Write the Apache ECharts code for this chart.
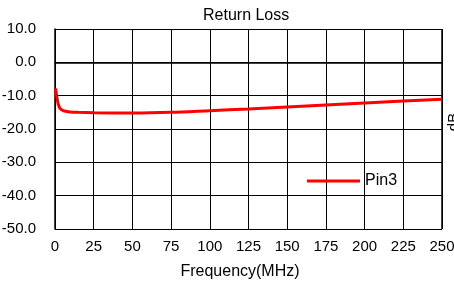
<!DOCTYPE html>
<html>
<head>
<meta charset="utf-8">
<script src="https://cdn.jsdelivr.net/npm/echarts@6/dist/echarts.min.js"></script>
<style>
  html, body { margin: 0; padding: 0; background: #fff; }
  #chart { width: 454px; height: 282px; }
</style>
</head>
<body>
<div id="chart"></div>
<script>
// frequency points (MHz) and return loss (dB)
const freqs = [0.5, 1, 2, 3, 4, 5, 7, 10, 15, 25, 50, 75, 100, 125, 150, 175, 200, 225, 250];
const pin3 = [-7.8, -9.8, -12.4, -13.6, -14.1, -14.4, -14.7, -14.9, -15.0, -15.1, -15.2, -15.0, -14.5, -14.0, -13.4, -12.8, -12.2, -11.6, -11.1];
const xTicks = [0, 25, 50, 75, 100, 125, 150, 175, 200, 225, 250];
const yTicks = [-50, -40, -30, -20, -10, 0, 10];

const font = 'Liberation Sans, Arial, sans-serif';
const chart = echarts.init(document.getElementById('chart'));

chart.setOption({
  animation: false,
  title: {
    text: 'Return Loss',
    left: 203,
    top: 8,
    padding: 0,
    textStyle: { fontFamily: font, fontSize: 16, fontWeight: 'normal', color: '#000' }
  },
  legend: {
    left: 307,
    top: 173,
    padding: 0,
    itemWidth: 53,
    itemHeight: 3,
    itemGap: 4,
    textStyle: { fontFamily: font, fontSize: 16, color: '#000', padding: [0, 0, 0, 0] },
    data: [{ name: 'Pin3', icon: 'rect' }]
  },
  grid: { left: 55, right: 12, top: 29, bottom: 53, outerBoundsMode: 'none' },
  xAxis: {
    type: 'value',
    min: xTicks[0],
    max: xTicks[xTicks.length - 1],
    interval: 25,
    axisLine: { lineStyle: { color: '#000', width: 1.5 } },
    axisTick: { show: false },
    axisLabel: { fontFamily: font, fontSize: 15, color: '#000', margin: 10 },
    splitLine: { show: true, lineStyle: { color: '#000', width: 1 } }
  },
  yAxis: {
    type: 'value',
    min: yTicks[0],
    max: yTicks[yTicks.length - 1],
    interval: 10,
    axisLine: { show: true, lineStyle: { color: '#000', width: 1.5 } },
    axisTick: { show: false },
    axisLabel: {
      fontFamily: font, fontSize: 15, color: '#000', margin: 19,
      formatter: v => v.toFixed(1)
    },
    splitLine: { show: true, lineStyle: { color: '#000', width: 1 } }
  },
  graphic: [
    {
      type: 'line',
      shape: { x1: 442, y1: 29, x2: 442, y2: 229 },
      style: { stroke: '#000', lineWidth: 1.5 }
    },
    {
      type: 'text',
      x: 240,
      y: 272,
      style: { text: 'Frequency(MHz)', font: '16px ' + font, fill: '#000', align: 'center', verticalAlign: 'middle' }
    },
    {
      type: 'text',
      x: 446,
      y: 122,
      rotation: Math.PI / 2,
      style: { text: 'dB', font: '15px ' + font, fill: '#000', align: 'center', verticalAlign: 'top' }
    }
  ],
  series: [{
    name: 'Pin3',
    type: 'line',
    symbol: 'none',
    smooth: 0.3,
    lineStyle: { color: '#ff0000', width: 3 },
    itemStyle: { color: '#ff0000' },
    data: freqs.map((f, i) => [f, pin3[i]])
  }]
});
</script>
</body>
</html>
